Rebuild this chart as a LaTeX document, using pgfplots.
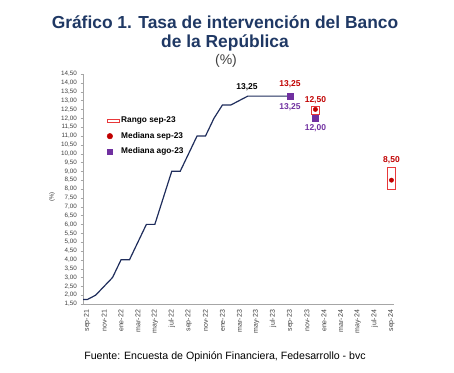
\documentclass[border=0pt]{standalone}
\usepackage{fontspec}
\setmainfont{Liberation Sans}
\usepackage{pgfplots}
\pgfplotsset{compat=1.18}
\definecolor{navy}{HTML}{1F2D5C}
\definecolor{titleblue}{HTML}{1F3864}
\definecolor{bred}{HTML}{C00000}
\definecolor{boxred}{HTML}{E8383A}
\definecolor{bpurple}{HTML}{7030A0}
\definecolor{axgray}{HTML}{A6A6A6}
\definecolor{txtgray}{HTML}{404040}
\begin{document}
\begin{tikzpicture}
\path[use as bounding box] (0pt,0pt) rectangle (454pt,-372pt);
\node[font=\bfseries\fontsize{17.4}{19}\selectfont, text=titleblue] at (225pt,-22pt) {Gráfico 1. Tasa de intervención del Banco};
\node[font=\bfseries\fontsize{17.4}{19}\selectfont, text=titleblue] at (225pt,-43pt) {de la República};
\node[font=\fontsize{14}{16}\selectfont, text=txtgray] at (226pt,-61pt) {(\%)};
\node[font=\fontsize{10.6}{12}\selectfont, text=black] at (225pt,-357pt) {Fuente: Encuesta de Opinión Financiera, Fedesarrollo - bvc};
\node[font=\fontsize{6}{7}\selectfont, text=txtgray, rotate=90] at (52pt,-197pt) {(\%)};
\begin{axis}[
  at={(83pt,-304pt)}, anchor=south west,
  scale only axis, width=311pt, height=230pt,
  xmin=-0.5, xmax=36.3, ymin=1.5, ymax=14.5,
  clip=false,
  axis x line*=bottom, axis y line*=left,
  axis line style={axgray},
  ytick distance=0.5,
  ytick style={axgray}, major tick length=2.5pt,
  tick align=outside,
  yticklabel style={font=\fontsize{6.3}{7}\selectfont, text=txtgray,
    /pgf/number format/.cd, fixed, fixed zerofill, precision=2, use comma, assume math mode=true},
  xtick={0,2,...,36},
  xticklabels={sep-21,nov-21,ene-22,mar-22,may-22,jul-22,sep-22,nov-22,ene-23,mar-23,may-23,jul-23,sep-23,nov-23,ene-24,mar-24,may-24,jul-24,sep-24},
  xtick style={draw=none},
  xticklabel style={rotate=90, anchor=east, font=\fontsize{7}{8}\selectfont, text=txtgray},
  legend style={draw=none, fill=none, at={(0.075,0.822)}, anchor=north west,
    font=\bfseries\fontsize{8.3}{9}\selectfont, row sep=4pt, inner sep=0pt},
  legend cell align=left,
]
\addplot[navy, line width=1.2pt, forget plot] coordinates {
(-0.5,1.75)(0,1.75)(1,2.00)(2,2.50)(3,3.00)(4,4.00)(5,4.00)(6,5.00)(7,6.00)(8,6.00)
(9,7.50)(10,9.00)(11,9.00)(12,10.00)(13,11.00)(14,11.00)(15,12.00)(16,12.75)(17,12.75)
(18,13.00)(19,13.25)(20,13.25)(21,13.25)(22,13.25)(23,13.25)(24,13.25)};
% Range boxes
\addplot[color=boxred, line width=0.7pt, mark=none,
  legend image code/.code={\draw[color=boxred, line width=0.7pt] (0pt,-1.8pt) rectangle (12pt,1.8pt);}]
  coordinates {(26.55,12.20)(27.45,12.20)(27.45,12.65)(26.55,12.65)(26.55,12.20)};
\addlegendentry{Rango sep-23}
\addplot[color=boxred, line width=0.7pt, mark=none, forget plot]
  coordinates {(35.5,8.00)(36.5,8.00)(36.5,9.25)(35.5,9.25)(35.5,8.00)};
% Medians
\addplot[only marks, mark=*, mark size=2.2pt, bred,
  legend image code/.code={\fill[bred] (3pt,0pt) circle (2.8pt);}]
  coordinates {(24,13.25)(27,12.50)(36,8.50)};
\addlegendentry{Mediana sep-23}
\addplot[only marks, mark=square*, mark size=3pt, bpurple,
  legend image code/.code={\fill[bpurple] (0.7pt,-2.2pt) rectangle (5.1pt,2.2pt);}]
  coordinates {(24,13.25)(27,12.00)};
\addlegendentry{Mediana ago-23}
% Data labels
\node[font=\bfseries\fontsize{8.5}{9}\selectfont, text=black] at (axis cs:18.9,13.76) {13,25};
\node[font=\bfseries\fontsize{8.5}{9}\selectfont, text=bred] at (axis cs:24,13.93) {13,25};
\node[font=\bfseries\fontsize{8.5}{9}\selectfont, text=bpurple] at (axis cs:24,12.63) {13,25};
\node[font=\bfseries\fontsize{8.5}{9}\selectfont, text=bred] at (axis cs:27,13.03) {12,50};
\node[font=\bfseries\fontsize{8.5}{9}\selectfont, text=bpurple] at (axis cs:27,11.44) {12,00};
\node[font=\bfseries\fontsize{8.5}{9}\selectfont, text=bred] at (axis cs:36,9.64) {8,50};
\end{axis}
\end{tikzpicture}
\end{document}
